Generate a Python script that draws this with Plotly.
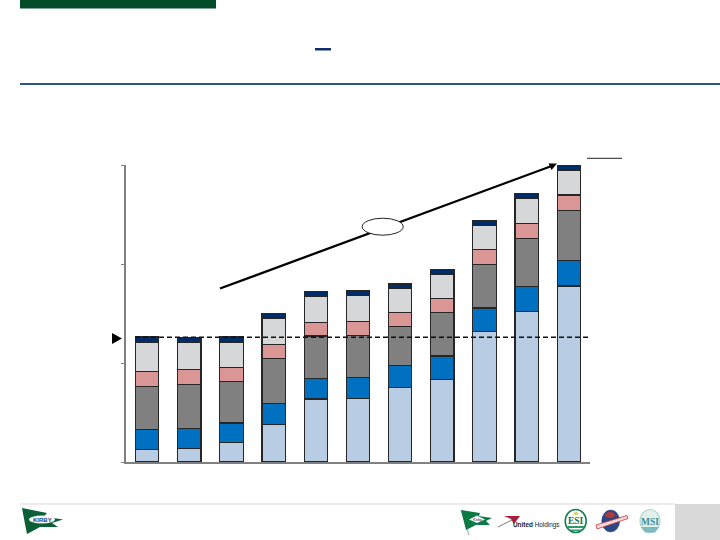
import plotly.graph_objects as go

# (units: left axis, ticks at 0, 100, 200, 300)
periods = list(range(11))
s1 = [12.4, 13.5, 19.5, 37.7, 63.6, 64.3, 75.4, 83.1, 131.6, 151.8, 177.8]
s2 = [20.2, 20.2, 19.9, 21.2, 20.5, 20.9, 21.9, 24.0, 23.9, 25.3, 25.9]
s3 = [43.4, 44.7, 42.1, 45.5, 43.1, 42.4, 39.7, 43.8, 43.8, 48.5, 50.2]
s4 = [15.2, 14.8, 13.8, 14.4, 13.8, 14.5, 14.1, 14.1, 15.2, 15.2, 15.8]
s5 = [29.7, 27.3, 25.6, 26.0, 26.0, 25.9, 24.2, 24.6, 24.2, 25.7, 25.3]
s6 = [6.1, 5.4, 5.4, 5.4, 5.1, 5.4, 4.6, 5.1, 5.1, 5.1, 5.3]
series = [s1, s2, s3, s4, s5, s6]
colors = ["#B8CCE4", "#0070C0", "#808080", "#D99694", "#D6D7D9", "#002D6A"]
reference_level = 126
y_ticks = [0, 100, 200, 300]

PL, PR, PT, PB = 126, 590, 165, 462
def X(p): return (p - PL) / (PR - PL)
def Y(p): return (PB - p) / (PB - PT)

def rect(x0, y0, x1, y1, fill, line=None, w=0):
    return dict(type="rect", xref="paper", yref="paper", x0=X(x0), x1=X(x1), y0=Y(y0), y1=Y(y1),
                fillcolor=fill, line=dict(color=line or fill, width=w), layer="above")
def line(x0, y0, x1, y1, color, w=1, dash="solid"):
    return dict(type="line", xref="paper", yref="paper", x0=X(x0), x1=X(x1), y0=Y(y0), y1=Y(y1),
                line=dict(color=color, width=w, dash=dash), layer="above")
def ell(cx, cy, rx, ry, fill, lc, w=1):
    return dict(type="circle", xref="paper", yref="paper", x0=X(cx-rx), x1=X(cx+rx), y0=Y(cy+ry), y1=Y(cy-ry),
                fillcolor=fill, line=dict(color=lc, width=w), layer="above")
def poly(pts, fill, lc=None, w=0):
    d = "M " + " L ".join(f"{X(a):.5f},{Y(b):.5f}" for a, b in pts) + " Z"
    return dict(type="path", xref="paper", yref="paper", path=d, fillcolor=fill,
                line=dict(color=lc or fill, width=w), layer="above")
def label(text, x, y, size, color, family="Liberation Sans"):
    return dict(text=text, x=X(x), y=Y(y), xref="paper", yref="paper", showarrow=False,
                xanchor="center", yanchor="middle", borderpad=0,
                font=dict(size=size, color=color, family=family))

fig = go.Figure()
for vals, col in zip(series, colors):
    fig.add_trace(go.Bar(x=periods, y=vals, marker=dict(color=col, line=dict(color="#262626", width=1.2)),
                         showlegend=False, hoverinfo="skip"))

shapes = [
    rect(20, 0, 216, 8.5, "#004B28"),
    rect(315, 48, 331, 50.5, "#0F2F6B"),
    rect(20, 83, 720, 85, "#2F5487"),
    rect(20, 503, 675, 505, "#ECECEC"),
    rect(675, 504, 720, 540, "#D9D9D9"),
    # reference level
    dict(type="line", xref="paper", yref="y", x0=X(135), x1=X(588), y0=reference_level, y1=reference_level,
         line=dict(color="#111111", width=1.3, dash="5px,3px"), layer="above"),
    poly([(112, 333), (122, 338.5), (112, 344)], "#000000"),
    # growth arrow
    line(220, 288.5, 553, 165.5, "#000000", 2.3),
    poly([(557, 163.5), (548.5, 163.5), (551.5, 170)], "#000000"),
    ell(382.7, 226.7, 20.5, 8.5, "#FFFFFF", "#222222", 1),
    line(587, 158.3, 622, 158.3, "#222222", 1),
    # Kirby flag, left
    poly([(22, 508), (47, 513), (44, 516.5), (63, 519.5), (52, 523), (58, 527), (40, 527), (27, 534), (25, 524)], "#0B5F36"),
    ell(42, 519.5, 13, 4, "#F4F7F5", "#F4F7F5", 0),
    # Kirby flag, right
    line(461, 510, 469, 535, "#AEB8B0", 1.2),
    poly([(461, 510), (480, 513), (479, 516), (492, 518), (486, 521), (490, 525), (476, 525), (466, 530)], "#0B7A45"),
    poly([(477, 515.5), (485, 519.5), (477, 523), (469, 519.5)], "#F4F7F5"),
    # United Holdings mark
    line(498, 527, 513, 519.5, "#555555", 0.8),
    poly([(504, 516), (520, 516), (514, 524), (511, 519)], "#A81E38"),
    # ESI
    ell(575.7, 521, 10.5, 11.5, "#FFFFFF", "#16804F", 1.6),
    rect(567.5, 526, 584, 528, "#2E9A6A"),
    rect(569.5, 529.5, 582, 531, "#2E9A6A"),
    ell(576, 513.5, 2.5, 1.5, "#D8D060", "#D8D060", 0),
    # roundel
    ell(610.7, 521, 9, 11, "#2B4784", "#2B4784", 0.5),
    ell(610, 515, 5, 3, "#B03A3A", "#B03A3A", 0),
    poly([(596, 525), (627, 515.5), (628, 518.5), (597, 529)], "#F2DADA", "#C8343A", 0.8),
    # MSI
    ell(650, 521, 10, 11.5, "#E2EFEA", "#B7D8CE", 1.2),
    poly([(641, 527), (659, 527), (655, 532.5), (645, 532.5)], "#7DBAC2"),
]

annotations = [
    label("<b>KIRBY</b>", 42, 519.5, 6, "#1F3F7F"),
    label("Kirby", 477, 519.5, 4, "#1F3F7F"),
    label("<b>United</b> Holdings", 536.5, 525, 6.4, "#222222"),
    label("<b>ESI</b>", 575.7, 520.5, 9.5, "#16704A", "Liberation Serif"),
    label("<b>MSI</b>", 650, 521.5, 9.5, "#3B8E9A", "Liberation Serif"),
]

fig.update_layout(
    barmode="stack", bargap=0.447, width=720, height=540,
    margin=dict(l=PL, r=720 - PR, t=PT, b=540 - PB),
    paper_bgcolor="#FFFFFF", plot_bgcolor="#FFFFFF", showlegend=False,
    shapes=shapes, annotations=annotations,
    xaxis=dict(range=[-0.5, 10.5], showticklabels=False, ticks="", showgrid=False, zeroline=False,
               showline=True, linecolor="#808080", linewidth=2),
    yaxis=dict(range=[0, 300], tickvals=y_ticks, showticklabels=False, ticks="outside", ticklen=3,
               tickcolor="#808080", tickwidth=1.3, showgrid=False, zeroline=False,
               showline=True, linecolor="#808080", linewidth=2),
)
fig.write_html("out.html", config=dict(displayModeBar=False),
               post_script="document.body.style.margin='0';")
